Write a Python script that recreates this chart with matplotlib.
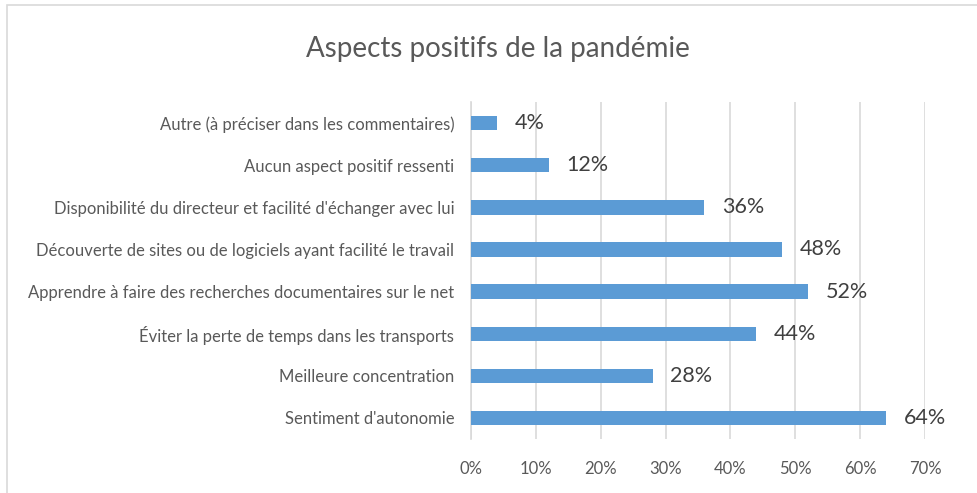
import matplotlib.pyplot as plt
from matplotlib.patches import Rectangle

categories = [
    "Sentiment d'autonomie",
    "Meilleure concentration",
    "Éviter la perte de temps dans les transports",
    "Apprendre à faire des recherches documentaires sur le net",
    "Découverte de sites ou de logiciels ayant facilité le travail",
    "Disponibilité du directeur et facilité d'échanger avec lui",
    "Aucun aspect positif ressenti",
    "Autre (à préciser dans les commentaires)",
]
values = [64, 28, 44, 52, 48, 36, 12, 4]
ticks = [0, 10, 20, 30, 40, 50, 60, 70]
tick_labels = ["0%", "10%", "20%", "30%", "40%", "50%", "60%", "70%"]

plt.rcParams["font.family"] = ["Lato", "DejaVu Sans"]

fig = plt.figure(figsize=(9.78, 4.93), dpi=100)
ax = fig.add_axes([0.4816, 0.1095, 0.4642, 0.6835])

# cadre du graphique
fig.patches.append(Rectangle((0.007, -0.1), 1.1, 1.09, transform=fig.transFigure,
                             fill=False, edgecolor="#D9D9D9", linewidth=1.2))

ax.barh(range(len(categories)), values, height=0.34, color="#5B9BD5", zorder=3)
for i, v in enumerate(values):
    ax.annotate(f"{v}%", (v, i), xytext=(12.5, 0), textcoords="offset points",
                va="center", ha="left", fontsize=15.5, color="#404040")

ax.set_xlim(0, 70)
ax.set_ylim(-0.5, len(categories) - 0.5)
ax.set_xticks(ticks)
ax.set_xticklabels(tick_labels, fontsize=12, color="#595959")
ax.set_yticks(range(len(categories)))
ax.set_yticklabels(categories, fontsize=12, color="#595959")
ax.tick_params(length=0, pad=12)
ax.tick_params(axis="x", pad=16)
ax.grid(axis="x", color="#D9D9D9", linewidth=1.2, zorder=0)
for s in ["top", "right", "bottom"]:
    ax.spines[s].set_visible(False)
ax.spines["left"].set_color("#D9D9D9")
ax.spines["left"].set_linewidth(1.2)

fig.text(0.509, 0.90, "Aspects positifs de la pandémie", ha="center", va="center",
         fontsize=20, color="#595959")

fig.savefig("out.png")
